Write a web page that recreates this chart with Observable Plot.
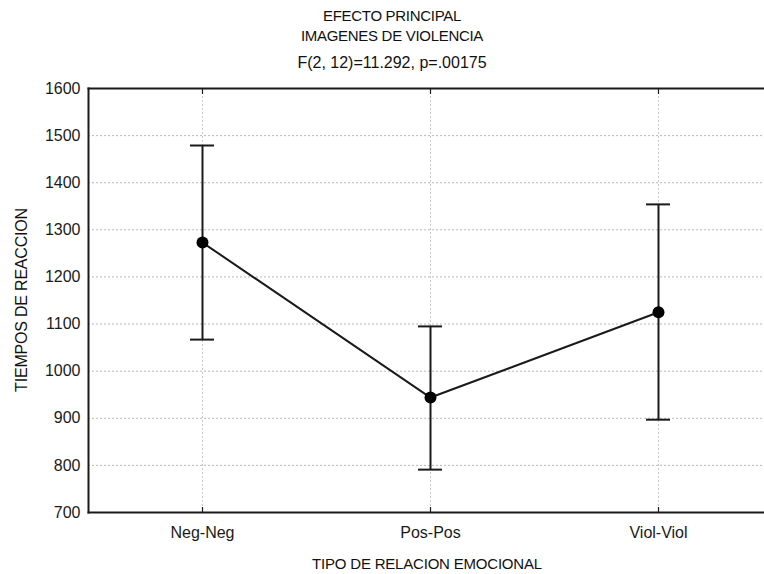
<!DOCTYPE html>
<html>
<head>
<meta charset="utf-8">
<script src="https://cdn.jsdelivr.net/npm/d3@7"></script>
<script src="https://cdn.jsdelivr.net/npm/@observablehq/plot@0.6"></script>
<style>
  html, body { margin: 0; padding: 0; background: #fff; overflow: hidden; }
  #wrap { position: relative; width: 764px; height: 574px; overflow: hidden; font-family: "Liberation Sans", Arial, sans-serif; color: #111; }
  #wrap svg { position: absolute; left: 0; top: 0; max-width: none !important; }
  .t { position: absolute; left: 192px; width: 400px; text-align: center; font-size: 15px; line-height: 1; letter-spacing: -0.3px; white-space: nowrap; }
  .xl { position: absolute; left: 227px; width: 400px; text-align: center; font-size: 15px; line-height: 1; letter-spacing: -0.2px; top: 556px; white-space: nowrap; }
  .yl { position: absolute; left: 22px; top: 300px; transform: translate(-50%, -50%) rotate(-90deg); font-size: 16px; line-height: 1; letter-spacing: -0.2px; white-space: nowrap; }
</style>
</head>
<body>
<div id="wrap">
  <div class="t" style="top:8px">EFECTO PRINCIPAL</div>
  <div class="t" style="top:28px">IMAGENES DE VIOLENCIA</div>
  <div class="t" style="top:55px; font-size:16px; letter-spacing:0">F(2, 12)=11.292, p=.00175</div>
  <div class="xl">TIPO DE RELACION EMOCIONAL</div>
  <div class="yl">TIEMPOS DE REACCION</div>
</div>
<script>
const categories = ["Neg-Neg", "Pos-Pos", "Viol-Viol"];
const means = [1273, 944, 1125];
const lower = [1067, 791, 897];
const upper = [1479, 1095, 1354];
const yTicks = [700, 800, 900, 1000, 1100, 1200, 1300, 1400, 1500, 1600];

const data = categories.map((c, i) => ({cat: c, mean: means[i], lo: lower[i], hi: upper[i]}));
const ink = "#1a1a1a";

const chart = Plot.plot({
  width: 772,
  height: 574,
  marginLeft: 88,
  marginRight: 0,
  marginTop: 88,
  marginBottom: 62,
  style: {fontFamily: "Liberation Sans, Arial, sans-serif", fontSize: "16px", color: ink, background: "transparent", overflow: "visible", maxWidth: "none"},
  x: {type: "band", domain: categories, paddingInner: 0, paddingOuter: 0, axis: null},
  y: {domain: [700, 1600], axis: null},
  marks: [
    Plot.gridY(yTicks, {stroke: "#b8b8b8", strokeOpacity: 1, strokeDasharray: "2,2"}),
    Plot.gridX(categories, {stroke: "#c8c8c8", strokeOpacity: 1, strokeDasharray: "2,2"}),
    Plot.axisY(yTicks, {tickSize: 0, tickPadding: 8, label: null, fontSize: 16, tickFormat: d3.format("d")}),
    Plot.axisX({tickSize: 0, tickPadding: 14, label: null, fontSize: 16}),
    Plot.axisX({anchor: "bottom", tickSize: -5, tickFormat: () => "", label: null, strokeWidth: 1.2}),
    Plot.axisX({anchor: "top", tickSize: -5, tickFormat: () => "", label: null, strokeWidth: 1.2}),
    Plot.frame({anchor: "left", stroke: ink, strokeWidth: 2}),
    Plot.frame({anchor: "top", stroke: ink, strokeWidth: 2}),
    Plot.frame({anchor: "bottom", stroke: ink, strokeWidth: 2}),
    Plot.ruleX(data, {x: "cat", y1: "lo", y2: "hi", stroke: ink, strokeWidth: 2}),
    Plot.tickY(data, {x: "cat", y: "lo", stroke: ink, strokeWidth: 2, inset: 102}),
    Plot.tickY(data, {x: "cat", y: "hi", stroke: ink, strokeWidth: 2, inset: 102}),
    Plot.line(data, {x: "cat", y: "mean", stroke: ink, strokeWidth: 2}),
    Plot.dot(data, {x: "cat", y: "mean", r: 6, fill: "#000", stroke: "none"})
  ]
});
document.getElementById("wrap").prepend(chart);
</script>
</body>
</html>
